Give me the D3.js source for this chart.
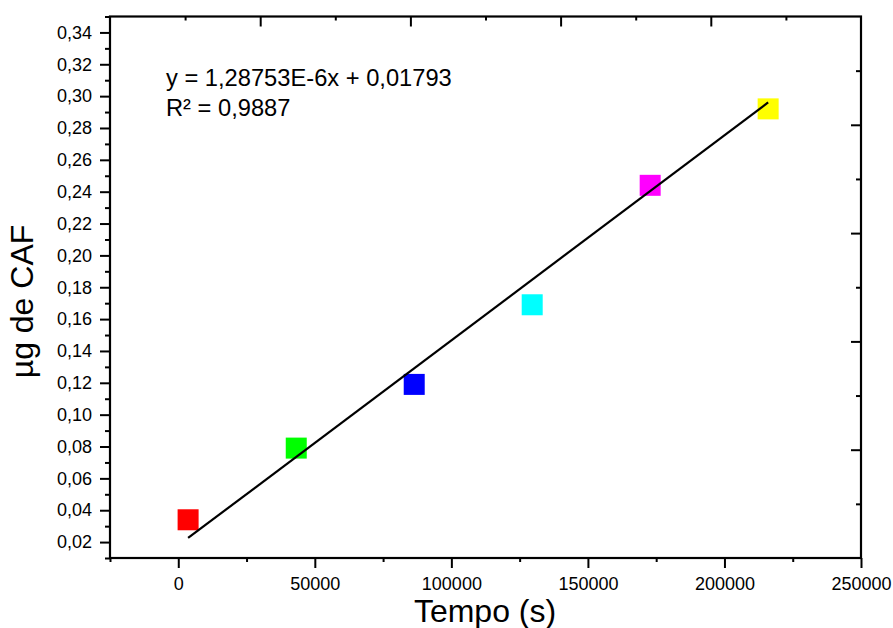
<!DOCTYPE html>
<html>
<head>
<meta charset="utf-8">
<script src="https://cdn.jsdelivr.net/npm/d3@7"></script>
<style>
  html, body { margin: 0; padding: 0; background: #fff; }
  svg { display: block; font-family: "Liberation Sans", Arial, sans-serif; }
</style>
</head>
<body>
<svg id="chart" width="893" height="628"></svg>
<script>
// ---- data ----
const times = [3600, 43200, 86400, 129600, 172800, 216000];
const caf = [0.034, 0.079, 0.119, 0.169, 0.244, 0.292];
const colors = ["#ff0000", "#00ff00", "#0000ff", "#00ffff", "#ff00ff", "#ffff00"];
const fitSlope = [1.28753e-6];
const fitIntercept = [0.01793];
const eqLines = ["y = 1,28753E-6x + 0,01793", "R² = 0,9887"];
const xTicks = [0, 50000, 100000, 150000, 200000, 250000];
const xMinorTicks = [-25000, 25000, 75000, 125000, 175000, 225000];
const yTicks = [0.02, 0.04, 0.06, 0.08, 0.10, 0.12, 0.14, 0.16, 0.18, 0.20, 0.22, 0.24, 0.26, 0.28, 0.30, 0.32, 0.34];
const yMinorTicks = [0.01, 0.03, 0.05, 0.07, 0.09, 0.11, 0.13, 0.15, 0.17, 0.19, 0.21, 0.23, 0.25, 0.27, 0.29, 0.31, 0.33, 0.35];
const topTicks = [2, 4, 6, 8];
const topMinorTicks = [1, 3, 5, 7, 9];
const rightTicks = [1, 2, 3, 4];
const rightMinorTicks = [0.5, 1.5, 2.5, 3.5, 4.5];
const xTitle = "Tempo (s)";
const yTitle = "µg de CAF";

// ---- layout ----
const L = 110, R = 861, T = 16.5, B = 558;
const svg = d3.select("#chart");

const x = d3.scaleLinear().domain([-25000, 250000]).range([L, R]);
const y = d3.scaleLinear().domain([0.01, 0.35]).range([B, T]);
const xTop = d3.scaleLinear().domain([0, 10]).range([L, R]);
const yRight = d3.scaleLinear().domain([0, 5]).range([B, T]);

const fmtY = v => d3.format(".2f")(v).replace(".", ",");
const fmtX = v => d3.format("d")(v);

function styleAxis(g, fs) {
  g.select(".domain").remove();
  g.selectAll(".tick line").attr("stroke", "#000").attr("stroke-width", 2);
  g.selectAll(".tick text").attr("fill", "#000").attr("font-size", fs).attr("font-family", "Liberation Sans, Arial, sans-serif");
}

// bottom axis
svg.append("g").attr("transform", `translate(0,${B})`)
  .call(d3.axisBottom(x).tickValues(xMinorTicks).tickSize(4).tickFormat(""))
  .call(g => styleAxis(g, 18));
svg.append("g").attr("transform", `translate(0,${B})`)
  .call(d3.axisBottom(x).tickValues(xTicks).tickSize(10).tickPadding(9).tickFormat(fmtX))
  .call(g => styleAxis(g, 18));

// left axis
svg.append("g").attr("transform", `translate(${L},0)`)
  .call(d3.axisLeft(y).tickValues(yMinorTicks).tickSize(5).tickFormat(""))
  .call(g => styleAxis(g, 18));
svg.append("g").attr("transform", `translate(${L},0)`)
  .call(d3.axisLeft(y).tickValues(yTicks).tickSize(10).tickPadding(8).tickFormat(fmtY))
  .call(g => styleAxis(g, 18));

// top axis (inward ticks)
svg.append("g").attr("transform", `translate(0,${T})`)
  .call(d3.axisBottom(xTop).tickValues(topMinorTicks).tickSize(4).tickFormat(""))
  .call(g => styleAxis(g, 18));
svg.append("g").attr("transform", `translate(0,${T})`)
  .call(d3.axisBottom(xTop).tickValues(topTicks).tickSize(10).tickFormat(""))
  .call(g => styleAxis(g, 18));

// right axis (inward ticks)
svg.append("g").attr("transform", `translate(${R},0)`)
  .call(d3.axisLeft(yRight).tickValues(rightMinorTicks).tickSize(5).tickFormat(""))
  .call(g => styleAxis(g, 18));
svg.append("g").attr("transform", `translate(${R},0)`)
  .call(d3.axisLeft(yRight).tickValues(rightTicks).tickSize(10).tickFormat(""))
  .call(g => styleAxis(g, 18));

// frame
svg.append("rect").attr("x", L).attr("y", T).attr("width", R - L).attr("height", B - T)
  .attr("fill", "none").attr("stroke", "#000").attr("stroke-width", 2.2);

// markers
const S = 21;
svg.append("g").selectAll("rect").data(times).join("rect")
  .attr("x", d => x(d) - S / 2)
  .attr("y", (d, i) => y(caf[i]) - S / 2)
  .attr("width", S).attr("height", S)
  .attr("fill", (d, i) => colors[i]);

// fit line
const xExt = d3.extent(times);
const fitPts = xExt.map(t => [t, fitSlope[0] * t + fitIntercept[0]]);
svg.append("path")
  .attr("d", d3.line().x(d => x(d[0])).y(d => y(d[1]))(fitPts))
  .attr("fill", "none").attr("stroke", "#000").attr("stroke-width", 2.2);

// equation text
svg.append("g").selectAll("text").data(eqLines).join("text")
  .attr("x", 166).attr("y", (d, i) => 86 + i * 29.5)
  .attr("font-size", 23.7).attr("fill", "#000")
  .text(d => d);

// axis titles
svg.append("text").attr("x", 485).attr("y", 621.5)
  .attr("text-anchor", "middle").attr("font-size", 32).attr("fill", "#000")
  .text(xTitle);
svg.append("text").attr("transform", "translate(33,301.5) rotate(-90)")
  .attr("text-anchor", "middle").attr("font-size", 32).attr("fill", "#000")
  .text(yTitle);
</script>
</body>
</html>
